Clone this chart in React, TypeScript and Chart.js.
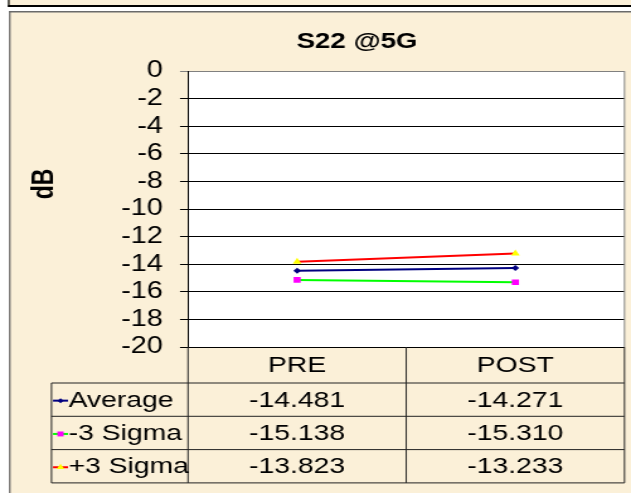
import React, { useEffect, useRef } from 'react';
import { Chart, registerables } from 'chart.js';

Chart.register(...registerables);

// ---- data ----
const categories = ['PRE', 'POST'];
const seriesNames = ['Average', '-3 Sigma', '+3 Sigma'];
const averageValues = [-14.481, -14.271];
const minus3SigmaValues = [-15.138, -15.31];
const plus3SigmaValues = [-13.823, -13.233];
const yMin = -20;
const yMax = 0;
const yStep = 2;
const chartTitle = 'S22 @5G';
const yAxisTitle = 'dB';

// ---- layout (picture is horizontally stretched, so draw narrower and stretch) ----
const W = 631;
const H = 493;
const IW = 501;
const sx = (x: number) => (x * IW) / W;
const BG = '#FBF0D8';
const FONT = "'Liberation Sans', Arial, sans-serif";

const seriesStyles = [
  { line: '#000080', point: '#000080', style: 'rectRot', radius: 3 },
  { line: '#00FF00', point: '#FF00FF', style: 'rect', radius: 4 },
  { line: '#FF0000', point: '#FFFF00', style: 'triangle', radius: 4 },
];
const seriesValues = [averageValues, minus3SigmaValues, plus3SigmaValues];

function drawMarker(ctx: CanvasRenderingContext2D, style: string, x: number, y: number, r: number, color: string) {
  ctx.save();
  ctx.fillStyle = color;
  ctx.beginPath();
  if (style === 'rectRot') {
    ctx.moveTo(x, y - r);
    ctx.lineTo(x + r, y);
    ctx.lineTo(x, y + r);
    ctx.lineTo(x - r, y);
  } else if (style === 'rect') {
    const s = r * Math.SQRT1_2;
    ctx.rect(x - s, y - s, 2 * s, 2 * s);
  } else {
    ctx.moveTo(x, y - r);
    ctx.lineTo(x + r * 0.87, y + r * 0.5);
    ctx.lineTo(x - r * 0.87, y + r * 0.5);
  }
  ctx.closePath();
  ctx.fill();
  ctx.restore();
}

const framePlugin = {
  id: 'excelFrame',
  beforeDraw(chart: any) {
    const { ctx, chartArea: a } = chart;
    ctx.save();
    ctx.fillStyle = '#ffffff';
    ctx.fillRect(0, 0, IW, H);
    // top strip (box above)
    ctx.fillStyle = BG;
    ctx.fillRect(sx(8), 0, IW, 6);
    ctx.fillStyle = '#000';
    ctx.fillRect(sx(8), 5, IW, 2);
    ctx.fillRect(sx(8), 0, sx(1.5), 7);
    // chart frame
    ctx.fillStyle = BG;
    ctx.fillRect(sx(9), 11, IW, H);
    ctx.fillStyle = '#6a6a6a';
    ctx.fillRect(sx(9), 11, IW, 1.5);
    ctx.fillRect(sx(9), 11, sx(1.6), H);
    // plot area
    ctx.fillStyle = '#ffffff';
    ctx.fillRect(a.left, a.top, a.right - a.left, a.bottom - a.top);
    ctx.restore();
  },
  afterDraw(chart: any) {
    const { ctx, chartArea: a } = chart;
    const xs = chart.scales.x;
    ctx.save();
    // plot right border
    ctx.strokeStyle = '#808080';
    ctx.lineWidth = 1;
    ctx.beginPath();
    ctx.moveTo(a.right, a.top);
    ctx.lineTo(a.right, a.bottom);
    ctx.stroke();

    // data table
    const c0 = xs.getPixelForValue(0);
    const c1 = xs.getPixelForValue(1);
    const centers = [c0, c1];
    const colL = a.left;
    const colM = (c0 + c1) / 2;
    const colR = a.right;
    const tableLeft = sx(51.5);
    const headerBottom = 383;
    const rowH = 33.3;
    const tableBottom = headerBottom + rowH * seriesNames.length;

    ctx.strokeStyle = '#222';
    ctx.lineWidth = 1;
    ctx.beginPath();
    for (const x of [colL, colM, colR]) {
      ctx.moveTo(x, a.bottom);
      ctx.lineTo(x, tableBottom);
    }
    ctx.moveTo(tableLeft, headerBottom);
    ctx.lineTo(tableLeft, tableBottom);
    for (let i = 0; i <= seriesNames.length; i++) {
      const y = headerBottom + i * rowH;
      ctx.moveTo(tableLeft, y);
      ctx.lineTo(colR, y);
    }
    ctx.stroke();

    ctx.fillStyle = '#000';
    ctx.font = `22.5px ${FONT}`;
    ctx.textBaseline = 'middle';
    ctx.textAlign = 'center';
    categories.forEach((c, i) => ctx.fillText(c, centers[i], (a.bottom + headerBottom) / 2 + 1));

    seriesNames.forEach((name, r) => {
      const yc = headerBottom + rowH * (r + 0.5) + 1;
      const st = seriesStyles[r];
      // legend key
      ctx.strokeStyle = st.line;
      ctx.lineWidth = 2;
      ctx.beginPath();
      ctx.moveTo(sx(53), yc);
      ctx.lineTo(sx(68), yc);
      ctx.stroke();
      drawMarker(ctx, st.style, sx(60.5), yc, st.radius - 0.5, st.point);
      ctx.fillStyle = '#000';
      ctx.textAlign = 'left';
      ctx.fillText(name, sx(68.5), yc);
      ctx.textAlign = 'center';
      seriesValues[r].forEach((v, i) => ctx.fillText(v.toFixed(3), centers[i], yc));
    });

    // title
    ctx.font = `bold 22px ${FONT}`;
    ctx.textAlign = 'center';
    ctx.fillText(chartTitle, sx(357), 42);

    // y axis title
    ctx.translate(sx(45.5), 184);
    ctx.rotate(-Math.PI / 2);
    ctx.font = `bold 23px ${FONT}`;
    ctx.fillText(yAxisTitle, 0, 0);
    ctx.restore();
  },
};

export default function App() {
  const ref = useRef<HTMLCanvasElement | null>(null);

  useEffect(() => {
    if (!ref.current) return;
    const chart = new Chart(ref.current, {
      type: 'line',
      data: {
        labels: categories,
        datasets: seriesNames.map((name, i) => ({
          label: name,
          data: seriesValues[i],
          borderColor: seriesStyles[i].line,
          borderWidth: 2,
          pointStyle: seriesStyles[i].style as any,
          pointRadius: seriesStyles[i].radius,
          pointBackgroundColor: seriesStyles[i].point,
          pointBorderColor: seriesStyles[i].point,
          pointBorderWidth: 0,
          fill: false,
          tension: 0,
        })),
      },
      options: {
        responsive: false,
        maintainAspectRatio: false,
        animation: false,
        layout: { padding: { left: 0, top: 71, right: IW - sx(624.5), bottom: 0 } },
        plugins: {
          legend: { display: false },
          tooltip: { enabled: false },
          title: { display: false },
        },
        scales: {
          x: {
            type: 'category',
            offset: true,
            grid: { display: false },
            border: { display: false },
            ticks: { display: false },
            afterFit: (s: any) => {
              s.height = H - 347;
            },
          },
          y: {
            min: yMin,
            max: yMax,
            ticks: {
              stepSize: yStep,
              autoSkip: false,
              color: '#000',
              font: { family: FONT, size: 23, lineHeight: 1 },
              padding: 13.5,
            },
            grid: {
              color: (c: any) => (c.tick && c.tick.value === yMax ? '#808080' : '#000'),
              lineWidth: 1,
              tickLength: sx(8),
            },
            border: { color: '#000', width: 1 },
            afterFit: (s: any) => {
              s.width = sx(188);
            },
          },
        },
      },
      plugins: [framePlugin],
    });
    return () => chart.destroy();
  }, []);

  return (
    <div style={{ position: 'absolute', left: 0, top: 0, width: W, height: H }}>
      <canvas ref={ref} width={IW} height={H} style={{ width: W, height: H, display: 'block' }} />
    </div>
  );
}
